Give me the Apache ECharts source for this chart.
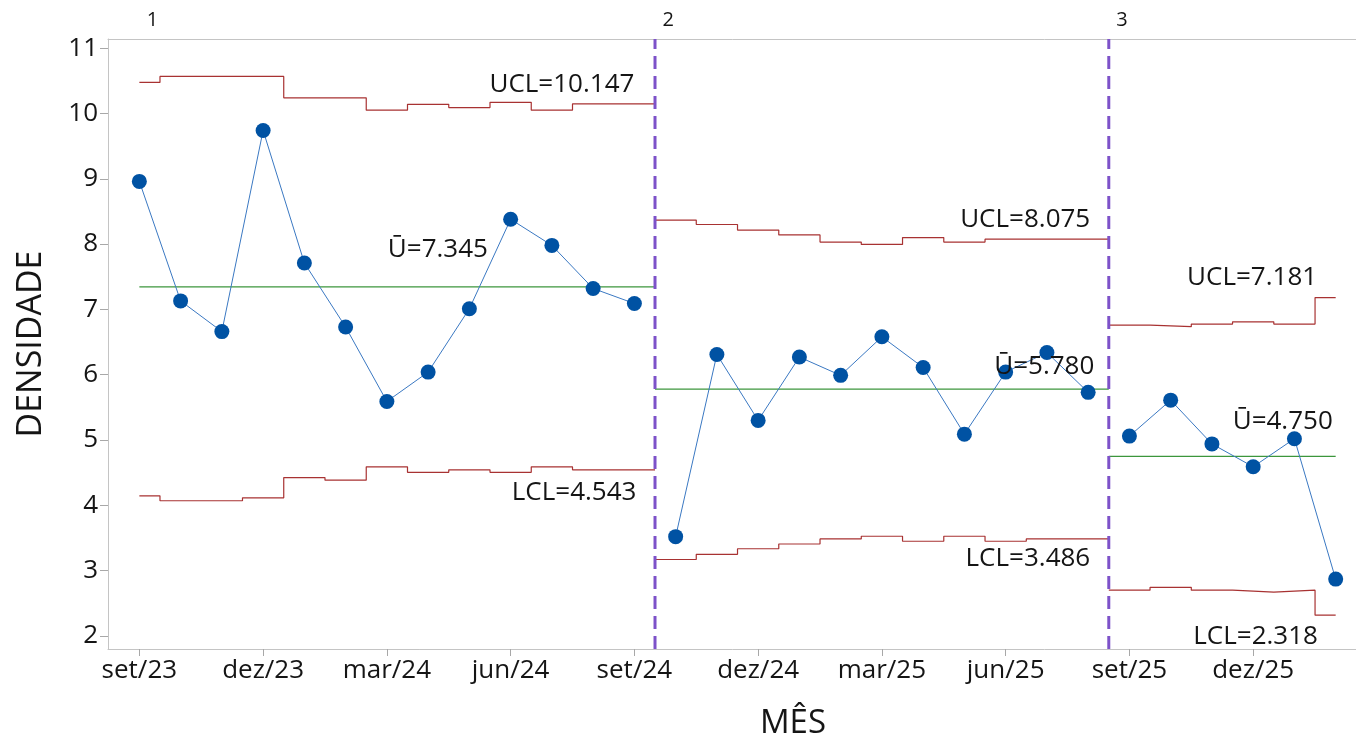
<!DOCTYPE html>
<html>
<head>
<meta charset="utf-8">
<title>Carta U – Densidade por mês</title>
<script src="https://cdn.jsdelivr.net/npm/echarts@6/dist/echarts.min.js"></script>
<style>
  html, body { margin: 0; padding: 0; background: #fff; overflow: hidden; }
  #chart { width: 1356px; height: 739px; }
</style>
</head>
<body>
<div id="chart"></div>
<script>
// Months of the study (one point per month)
const months = ['set/23','out/23','nov/23','dez/23','jan/24','fev/24','mar/24','abr/24','mai/24','jun/24','jul/24','ago/24','set/24',
                'out/24','nov/24','dez/24','jan/25','fev/25','mar/25','abr/25','mai/25','jun/25','jul/25','ago/25',
                'set/25','out/25','nov/25','dez/25','jan/26','fev/26'];

// Observed density (defects per unit) for each month
const density = [8.96, 7.13, 6.66, 9.74, 7.71, 6.73, 5.59, 6.04, 7.01, 8.38, 7.98, 7.32, 7.09,
                 3.52, 6.31, 5.30, 6.27, 5.99, 6.58, 6.11, 5.09, 6.04, 6.34, 5.73,
                 5.06, 5.61, 4.94, 4.59, 5.02, 2.87];

// Number of months in each stage
const stageSizes = [13, 11, 6];
const stageNames = ['1', '2', '3'];

// Centre line (Ū) of each stage
const centerLine = [7.345, 5.780, 4.750];

// Upper control limit per month, grouped by stage
const uclStage1 = [10.475, 10.567, 10.567, 10.567, 10.24, 10.24, 10.05, 10.14, 10.09, 10.17, 10.05, 10.147, 10.147];
const uclStage2 = [8.367, 8.30, 8.214, 8.14, 8.03, 7.995, 8.10, 8.03, 8.075, 8.075, 8.075];
const uclStage3 = [6.76, 6.735, 6.775, 6.81, 6.775, 7.181];

// Lower control limit per month, grouped by stage
const lclStage1 = [4.145, 4.07, 4.07, 4.115, 4.425, 4.385, 4.59, 4.505, 4.543, 4.505, 4.59, 4.543, 4.543];
const lclStage2 = [3.17, 3.25, 3.335, 3.408, 3.485, 3.526, 3.45, 3.526, 3.45, 3.486, 3.486];
const lclStage3 = [2.70, 2.745, 2.70, 2.67, 2.70, 2.318];

// Axis ticks
const xTickIdx = [0, 3, 6, 9, 12, 15, 18, 21, 24, 27];
const yTicks = [2, 3, 4, 5, 6, 7, 8, 9, 10, 11];

const uclStages = [uclStage1, uclStage2, uclStage3];
const lclStages = [lclStage1, lclStage2, lclStage3];

const FONT = '"Open Sans", "Noto Sans", sans-serif';
const TEXT = '#151515';
const LIMIT_RED = '#a83232';
const CENTER_GREEN = '#3c963c';
const STAGE_PURPLE = '#7d52c9';
const FRAME = '#c4c4c4';
const Y_MIN = 1.8, Y_MAX = 11.14;

// stage start/end indices
const stages = [];
{
  let a = 0;
  stageSizes.forEach((n, s) => { stages.push({ start: a, end: a + n - 1 }); a += n; });
}
const lastStage = stages.length - 1;
const lastIdx = stages[lastStage].end;

// Step line for limits: each month holds its limit over ±½ month,
// clipped at the first and last month of the chart.
function stepData(s, values) {
  const out = [];
  const st = stages[s];
  values.forEach((v, k) => {
    const i = st.start + k;
    const x0 = (i === 0) ? i : i - 0.5;
    const x1 = (i === lastIdx) ? i : i + 0.5;
    out.push([x0, v], [x1, v]);
  });
  return out;
}
function centerData(s) {
  const st = stages[s];
  const x0 = st.start === 0 ? 0 : st.start - 0.5;
  const x1 = st.end === lastIdx ? lastIdx : st.end + 0.5;
  return [[x0, centerLine[s]], [x1, centerLine[s]]];
}

const series = [];
stages.forEach((st, s) => {
  series.push({
    type: 'line', name: 'UCL' + s, data: stepData(s, uclStages[s]),
    showSymbol: false, symbol: 'none', z: 2, silent: true,
    lineStyle: { color: LIMIT_RED, width: 1.2 }
  });
  series.push({
    type: 'line', name: 'LCL' + s, data: stepData(s, lclStages[s]),
    showSymbol: false, symbol: 'none', z: 2, silent: true,
    lineStyle: { color: LIMIT_RED, width: 1.2 }
  });
  series.push({
    type: 'line', name: 'CL' + s, data: centerData(s),
    showSymbol: false, symbol: 'none', z: 2, silent: true,
    lineStyle: { color: CENTER_GREEN, width: 1.2 }
  });
  const pts = [];
  for (let i = st.start; i <= st.end; i++) pts.push([i, density[i]]);
  series.push({
    type: 'line', name: 'Densidade' + s, data: pts, z: 4,
    symbol: 'circle', symbolSize: 15, showSymbol: true,
    itemStyle: { color: '#0052a3' },
    lineStyle: { color: '#3a78c2', width: 1 }
  });
});
// dashed dividers between stages, full plot height
stages.slice(1).forEach(st => {
  const x = st.start - 0.5;
  series.push({
    type: 'line', name: 'Etapa' + x, data: [[x, Y_MIN], [x, Y_MAX]],
    showSymbol: false, symbol: 'none', z: 3, silent: true,
    lineStyle: { color: STAGE_PURPLE, width: 3, type: [13, 7] }
  });
});

const chart = echarts.init(document.getElementById('chart'), null, { renderer: 'canvas' });
chart.setOption({
  animation: false,
  textStyle: { fontFamily: FONT },
  grid: {
    left: 108, top: 39, right: -122, bottom: 90,
    show: false, containLabel: false, outerBoundsMode: 'none'
  },
  xAxis: [{
    type: 'value', min: -0.76, max: 32.45, position: 'bottom',
    splitLine: { show: false },
    axisLine: { show: true, onZero: false, lineStyle: { color: FRAME, width: 1 } },
    axisTick: { show: true, customValues: xTickIdx, length: 7, lineStyle: { color: '#a8a8a8' } },
    axisLabel: {
      customValues: xTickIdx, formatter: v => months[Math.round(v)],
      fontSize: 26, color: TEXT, margin: 9, fontFamily: FONT
    },
    name: 'MÊS', nameLocation: 'middle', nameGap: 58,
    nameTextStyle: { fontSize: 33, color: TEXT, fontFamily: FONT }
  }, {
    // top frame line
    type: 'value', min: -0.76, max: 32.45, position: 'top',
    splitLine: { show: false },
    axisLine: { show: true, onZero: false, lineStyle: { color: FRAME, width: 1 } },
    axisTick: { show: false }, axisLabel: { show: false }
  }],
  yAxis: {
    type: 'value', min: Y_MIN, max: Y_MAX,
    splitLine: { show: false },
    axisLine: { show: true, onZero: false, lineStyle: { color: FRAME, width: 1 } },
    axisTick: { show: true, customValues: yTicks, length: 8, lineStyle: { color: '#a8a8a8' } },
    axisLabel: {
      customValues: yTicks, formatter: v => String(v),
      fontSize: 26, color: TEXT, margin: 10, fontFamily: FONT
    },
    name: 'DENSIDADE', nameLocation: 'middle', nameGap: 60,
    nameTextStyle: { fontSize: 34, color: TEXT, fontFamily: FONT }
  },
  series: series
});

// Limit and stage labels placed relative to each stage's lines
const px = (x, y) => chart.convertToPixel({ xAxisIndex: 0, yAxisIndex: 0 }, [x, y]);
const labelShift = [
  { ucl: [0.0, -19], cl: [-3.55, -37], lcl: [0.05, 23] },
  { ucl: [0.05, -20], cl: [0.15, -22], lcl: [0.05, 20] },
  { ucl: [-0.45, -20], cl: [-0.07, -35], lcl: [-0.43, 21] }
];
const graphics = [];
function addText(text, x, y, size, align) {
  graphics.push({
    type: 'text', x: x, y: y, silent: true, z: 10,
    style: {
      text: text, fill: TEXT, fontSize: size, fontFamily: FONT,
      align: align, verticalAlign: 'middle'
    }
  });
}
stages.forEach((st, s) => {
  const sh = labelShift[s];
  const ucl = uclStages[s][uclStages[s].length - 1];
  const lcl = lclStages[s][lclStages[s].length - 1];
  let p = px(st.end + sh.ucl[0], ucl);
  addText('UCL=' + ucl.toFixed(3), p[0], p[1] + sh.ucl[1], 26, 'right');
  p = px(st.end + sh.cl[0], centerLine[s]);
  addText('Ū=' + centerLine[s].toFixed(3), p[0], p[1] + sh.cl[1], 26, 'right');
  p = px(st.end + sh.lcl[0], lcl);
  addText('LCL=' + lcl.toFixed(3), p[0], p[1] + sh.lcl[1], 26, 'right');
  const sx = Math.max(st.start - 0.5, 0) + 0.32;
  const q = px(sx, Y_MAX);
  addText(stageNames[s], q[0], q[1] - 19, 20, 'center');
});
chart.setOption({ graphic: graphics });
</script>
</body>
</html>
